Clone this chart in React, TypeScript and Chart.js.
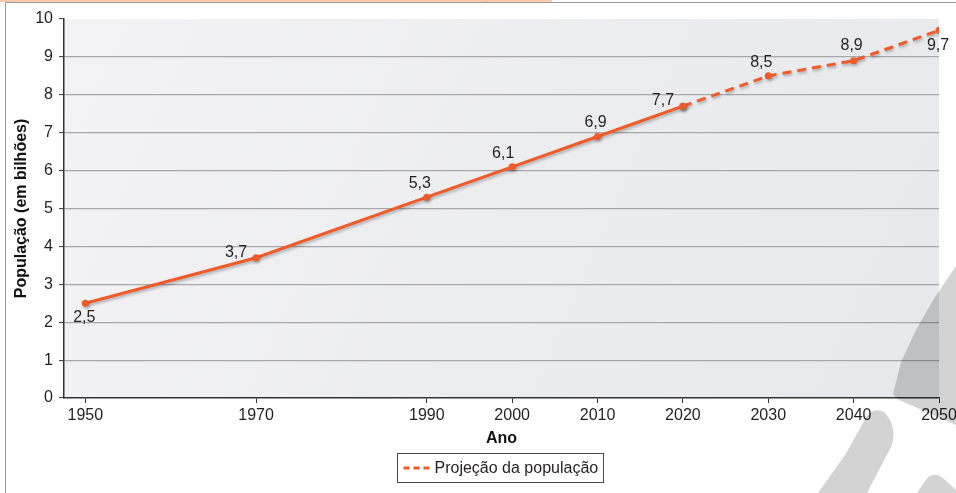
import { useEffect, useRef } from "react";
import { Chart, registerables } from "chart.js";

Chart.register(...registerables);

// World population (billions); values from 2020 onward are projections
const years = [1950, 1970, 1990, 2000, 2010, 2020, 2030, 2040, 2050];
const population = [2.5, 3.7, 5.3, 6.1, 6.9, 7.7, 8.5, 8.9, 9.7];
const projectionStartYear = 2020;
const yAxisTitle = "População (em bilhões)";
const xAxisTitle = "Ano";
const legendText = "Projeção da população";

// Offsets (px) of each value label from its point
const labelOffsets: [number, number][] = [
  [-1, 14],
  [-20, -5],
  [-7, -14],
  [-9, -13],
  [-2, -14],
  [-20, -6],
  [-7, -13],
  [-2, -15],
  [-1, 15],
];

const LINE_COLOR = "#f15a29";
const TEXT_COLOR = "#231f20";
const FONT_FAMILY = "'Liberation Sans', Arial, Helvetica, sans-serif";
const FONT_SIZE = 16;

const fmt = (v: number) => v.toFixed(1).replace(".", ",");

const observed = years
  .map((x, i) => ({ x, y: population[i] }))
  .filter((p) => p.x <= projectionStartYear);
const projected = years
  .map((x, i) => ({ x, y: population[i] }))
  .filter((p) => p.x >= projectionStartYear);

const decorPlugin = {
  id: "decor",
  beforeDraw(chart: any) {
    const { ctx, chartArea: a } = chart;
    ctx.save();
    ctx.fillStyle = "#ffffff";
    ctx.fillRect(0, 0, chart.width, chart.height);
    // peach band and page frame
    ctx.fillStyle = "#f9cba8";
    ctx.fillRect(0, 0, 552, 2);
    ctx.strokeStyle = "#9a9a9a";
    ctx.lineWidth = 1;
    ctx.beginPath();
    ctx.moveTo(5.5, chart.height);
    ctx.lineTo(5.5, 2.5);
    ctx.lineTo(chart.width, 2.5);
    ctx.stroke();
    // plot background
    const g = ctx.createLinearGradient(a.left, a.top, a.right, a.bottom);
    g.addColorStop(0, "#f3f3f5");
    g.addColorStop(1, "#e7e8eb");
    ctx.fillStyle = g;
    ctx.fillRect(a.left, a.top, a.right - a.left, a.bottom - a.top);
    ctx.restore();
  },
  beforeDatasetsDraw(chart: any) {
    const { ctx } = chart;
    ctx.save();
    ctx.shadowColor = "rgba(0,0,0,0.28)";
    ctx.shadowBlur = 3;
    ctx.shadowOffsetX = 1;
    ctx.shadowOffsetY = 2;
  },
  afterDatasetsDraw(chart: any) {
    const { ctx } = chart;
    ctx.restore();
    const xs = chart.scales.x;
    const ys = chart.scales.y;
    ctx.save();
    ctx.font = `${FONT_SIZE}px ${FONT_FAMILY}`;
    ctx.fillStyle = TEXT_COLOR;
    ctx.textAlign = "center";
    ctx.textBaseline = "middle";
    years.forEach((yr, i) => {
      const px = xs.getPixelForValue(yr);
      const py = ys.getPixelForValue(population[i]);
      const [dx, dy] = labelOffsets[i];
      ctx.fillText(fmt(population[i]), px + dx, py + dy);
    });
    ctx.restore();
  },
  afterDraw(chart: any) {
    const { ctx } = chart;
    ctx.save();
    // legend box
    const lx = 397.5, ly = 453.5, lw = 206, lh = 29;
    ctx.strokeStyle = "#4a4a4a";
    ctx.lineWidth = 1;
    ctx.strokeRect(lx, ly, lw, lh);
    ctx.strokeStyle = LINE_COLOR;
    ctx.lineWidth = 3;
    ctx.setLineDash([6, 4]);
    ctx.beginPath();
    ctx.moveTo(lx + 6, ly + lh / 2);
    ctx.lineTo(lx + 33, ly + lh / 2);
    ctx.stroke();
    ctx.setLineDash([]);
    ctx.font = `${FONT_SIZE}px ${FONT_FAMILY}`;
    ctx.fillStyle = TEXT_COLOR;
    ctx.textAlign = "left";
    ctx.textBaseline = "middle";
    ctx.fillText(legendText, lx + 37, ly + lh / 2 + 1);

    // grey mark over the lower right corner (multiplied onto what is below)
    ctx.globalCompositeOperation = "multiply";
    ctx.fillStyle = "#d3d3d3";
    // upper arch
    ctx.beginPath();
    ctx.moveTo(956, 266);
    ctx.lineTo(935, 297);
    ctx.lineTo(916, 330);
    ctx.lineTo(901, 362);
    ctx.lineTo(893, 394);
    ctx.lineTo(897, 399);
    ctx.lineTo(956, 425);
    ctx.closePath();
    ctx.fill();
    // lower stroke with rounded top
    ctx.beginPath();
    ctx.moveTo(818, 493);
    ctx.lineTo(845, 455);
    ctx.lineTo(862, 425);
    ctx.quadraticCurveTo(870, 405, 884, 412);
    ctx.quadraticCurveTo(897, 425, 892, 445);
    ctx.lineTo(867, 493);
    ctx.closePath();
    ctx.fill();
    // corner blob
    ctx.beginPath();
    ctx.moveTo(917, 493);
    ctx.lineTo(925, 481);
    ctx.quadraticCurveTo(933, 470, 943, 478);
    ctx.lineTo(956, 490);
    ctx.lineTo(956, 493);
    ctx.closePath();
    ctx.fill();
    ctx.restore();
  },
};

export default function App() {
  const ref = useRef<HTMLCanvasElement | null>(null);

  useEffect(() => {
    if (!ref.current) return;
    const tickFont = { family: FONT_FAMILY, size: FONT_SIZE };
    const titleFont = { family: FONT_FAMILY, size: FONT_SIZE, weight: "bold" as const };
    const chart = new Chart(ref.current, {
      type: "line",
      data: {
        datasets: [
          {
            label: "População",
            data: observed,
            borderColor: LINE_COLOR,
            backgroundColor: LINE_COLOR,
            borderWidth: 3,
            pointRadius: 3.5,
            pointBorderWidth: 0,
            tension: 0,
          },
          {
            label: legendText,
            data: projected,
            borderColor: LINE_COLOR,
            backgroundColor: LINE_COLOR,
            borderWidth: 3,
            borderDash: [9, 6],
            pointRadius: 3.5,
            pointBorderWidth: 0,
            tension: 0,
          },
        ],
      },
      options: {
        responsive: false,
        animation: false,
        devicePixelRatio: 1,
        layout: { padding: { top: 19, right: 17, bottom: 43, left: 0 } },
        plugins: {
          legend: { display: false },
          tooltip: { enabled: false },
        },
        scales: {
          x: {
            type: "linear",
            min: 1947.5,
            max: 2050,
            afterBuildTicks: (s: any) => {
              s.ticks = years.map((v) => ({ value: v }));
            },
            afterFit: (s: any) => {
              s.height = 52;
              s.paddingLeft = 0;
              s.paddingRight = 0;
            },
            grid: {
              drawOnChartArea: false,
              drawTicks: true,
              tickLength: 5,
              tickColor: "#333",
              tickWidth: 1,
            },
            border: { display: true, color: "#333", width: 1.5 },
            ticks: {
              font: tickFont,
              color: TEXT_COLOR,
              padding: 3,
              maxRotation: 0,
              autoSkip: false,
              callback: (v: any) => String(v),
            },
            title: {
              display: true,
              text: xAxisTitle,
              font: titleFont,
              color: "#111",
              padding: { top: 0, bottom: 2 },
            },
          },
          y: {
            min: 0,
            max: 10,
            afterFit: (s: any) => {
              s.width = 64;
              s.paddingTop = 0;
              s.paddingBottom = 0;
            },
            grid: {
              color: (c: any) =>
                c.tick && (c.tick.value === 0 || c.tick.value === 10)
                  ? "rgba(0,0,0,0)"
                  : "#a8a8aa",
              lineWidth: 1.2,
              drawTicks: true,
              tickLength: 5,
              tickColor: "#333",
              tickWidth: 1,
            },
            border: { display: true, color: "#333", width: 1.5 },
            ticks: {
              stepSize: 1,
              font: tickFont,
              color: TEXT_COLOR,
              padding: 6,
            },
            title: {
              display: true,
              text: yAxisTitle,
              font: titleFont,
              color: "#111",
              padding: { top: 12, bottom: 0 },
            },
          },
        },
      },
      plugins: [decorPlugin],
    });
    return () => chart.destroy();
  }, []);

  return (
    <div style={{ position: "absolute", left: 0, top: 0, width: 956, height: 493 }}>
      <canvas ref={ref} width={956} height={493} style={{ display: "block" }} />
    </div>
  );
}
